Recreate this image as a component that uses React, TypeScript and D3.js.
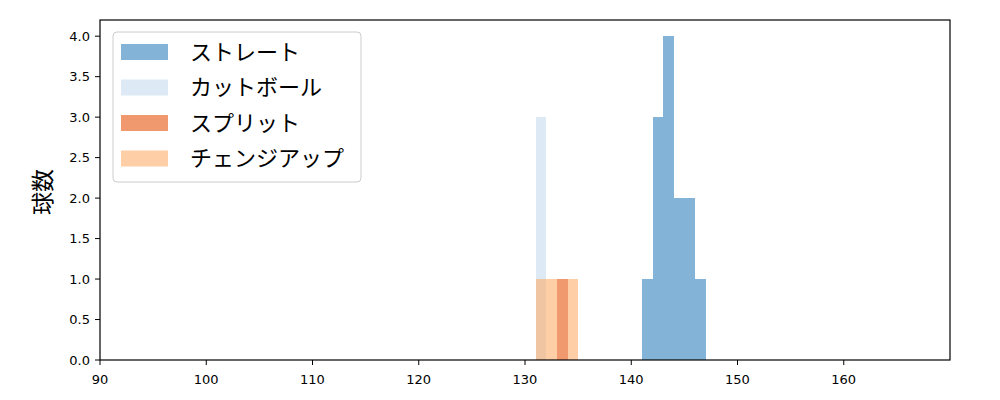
import React from "react";
import * as d3 from "d3";

const straightBins = [141, 142, 143, 144, 145, 146];
const straightCounts = [1, 3, 4, 2, 2, 1];
const cutBins = [131];
const cutCounts = [3];
const splitBins = [133];
const splitCounts = [1];
const changeupBins = [131, 132, 134];
const changeupCounts = [1, 1, 1];

const seriesNames = ["ストレート", "カットボール", "スプリット", "チェンジアップ"];
const seriesColors = ["#3182bd", "#c6dbef", "#e6550d", "#fdae6b"];
const xTicks = [90, 100, 110, 120, 130, 140, 150, 160];
const yTicks = [0, 0.5, 1, 1.5, 2, 2.5, 3, 3.5, 4];
const binWidth = 1;

const W = 1000, H = 400;
const M = { left: 100, right: 950, top: 20, bottom: 360 };

export default function App() {
  const x = d3.scaleLinear().domain([90, 170]).range([M.left, M.right]);
  const y = d3.scaleLinear().domain([0, 4.2]).range([M.bottom, M.top]);
  const series = [
    { bins: straightBins, counts: straightCounts },
    { bins: cutBins, counts: cutCounts },
    { bins: splitBins, counts: splitCounts },
    { bins: changeupBins, counts: changeupCounts },
  ];
  const jp = "'Noto Sans CJK JP', sans-serif";
  const num = "'DejaVu Sans', sans-serif";
  return (
    <svg width={W} height={H} style={{ position: "absolute", left: 0, top: 0 }}>
      <rect x={0} y={0} width={W} height={H} fill="#fff" />
      {series.map((s, si) => (
        <g key={si}>
          {s.bins.map((b, i) => (
            <rect
              key={i}
              x={x(b)}
              y={y(s.counts[i])}
              width={x(b + binWidth) - x(b)}
              height={y(0) - y(s.counts[i])}
              fill={seriesColors[si]}
              fillOpacity={0.6}
              shapeRendering="crispEdges"
            />
          ))}
        </g>
      ))}
      <rect x={M.left} y={M.top} width={M.right - M.left} height={M.bottom - M.top} fill="none" stroke="#000" strokeWidth={1.2} />
      {xTicks.map((t) => (
        <g key={t}>
          <line x1={x(t)} x2={x(t)} y1={M.bottom} y2={M.bottom + 5} stroke="#000" strokeWidth={1} />
          <text x={x(t)} y={M.bottom + 24} textAnchor="middle" fontSize={13} fontFamily={num} fill="#000">{t}</text>
        </g>
      ))}
      {yTicks.map((t) => (
        <g key={t}>
          <line x1={M.left - 5} x2={M.left} y1={y(t)} y2={y(t)} stroke="#000" strokeWidth={1} />
          <text x={M.left - 10} y={y(t)} dy="0.36em" textAnchor="end" fontSize={13} fontFamily={num} fill="#000">{t.toFixed(1)}</text>
        </g>
      ))}
      <text transform={`translate(51,192) rotate(-90)`} textAnchor="middle" fontSize={23} fontFamily={jp} fill="#000">球数</text>
      <g>
        <rect x={113} y={32} width={248} height={150} rx={4} fill="#fff" fillOpacity={0.8} stroke="#ccc" strokeWidth={1} />
        {seriesNames.map((n, i) => (
          <g key={n}>
            <rect x={121} y={44 + i * 35.5} width={47} height={16} fill={seriesColors[i]} fillOpacity={0.6} />
            <text x={190} y={52 + i * 35.5} dy="0.36em" fontSize={22} fontFamily={jp} fill="#000">{n}</text>
          </g>
        ))}
      </g>
    </svg>
  );
}
